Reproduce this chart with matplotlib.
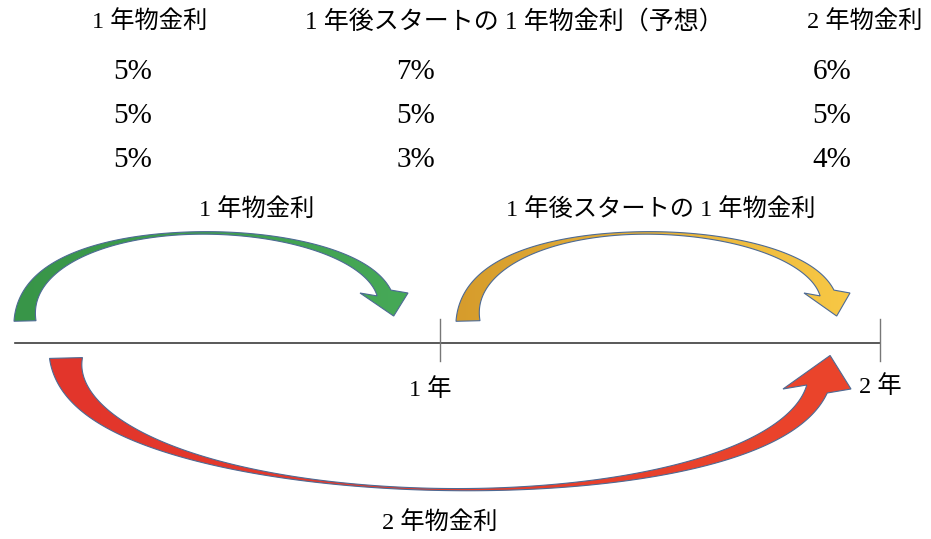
import numpy as np
import matplotlib.pyplot as plt
from matplotlib.patches import Polygon
from matplotlib.colors import LinearSegmentedColormap

plt.rcParams['font.family'] = ['Liberation Serif', 'Noto Sans CJK JP']

# table at the top
col_titles = ["1 年物金利", "1 年後スタートの 1 年物金利（予想）", "2 年物金利"]
rate_1y = [5, 5, 5]
rate_fwd = [7, 5, 3]
rate_2y = [6, 5, 4]

# time line
years = [1, 2]
year_labels = ["1 年", "2 年"]
arrow_labels = ["1 年物金利", "1 年後スタートの 1 年物金利", "2 年物金利"]


def bezier(p, t):
  p = np.asarray(p, float)
  t = t[:, None]
  pts = ((1 - t)**3 * p[0] + 3 * (1 - t)**2 * t * p[1]
         + 3 * (1 - t) * t**2 * p[2] + t**3 * p[3])
  der = (3 * (1 - t)**2 * (p[1] - p[0]) + 6 * (1 - t) * t * (p[2] - p[1])
         + 3 * t**2 * (p[3] - p[2]))
  return pts, der / np.linalg.norm(der, axis=1)[:, None]


def curved_arrow(ax, ctrl, w0, wmid, wend, half, head_len, c0, c1,
                 k0=1.2, k1=1.2):
  t = np.linspace(0, 1, 300)
  pts, tan = bezier(ctrl, t)
  nrm = np.column_stack([-tan[:, 1], tan[:, 0]])
  w = np.where(t < 0.5, wmid + (w0 - wmid) * np.clip(1 - 2 * t, 0, 1)**k0,
               wmid + (wend - wmid) * np.clip(2 * t - 1, 0, 1)**k1)
  left = pts + nrm * w[:, None] / 2
  right = pts - nrm * w[:, None] / 2
  end = pts[-1]
  s = np.sign(nrm[-1, 0])
  tip = end + tan[-1] * head_len
  poly = np.vstack([left, [end + [s * half, 0]], [tip],
                    [end - [s * half, 0]], right[::-1]])
  patch = Polygon(poly, closed=True, facecolor='none',
                  edgecolor='#4d6a94', lw=0.8, zorder=3, joinstyle='miter')
  ax.add_patch(patch)
  cmap = LinearSegmentedColormap.from_list('g', [c0, c1])
  x0, x1 = poly[:, 0].min(), poly[:, 0].max()
  y0, y1 = poly[:, 1].min(), poly[:, 1].max()
  grad = np.linspace(0, 1, 256)[None, :]
  im = ax.imshow(grad, cmap=cmap, extent=[x0, x1, y1, y0],
                 aspect='auto', zorder=2, interpolation='bilinear')
  im.set_clip_path(patch)


fig = plt.figure(figsize=(9.31, 5.39), dpi=100)
ax = fig.add_axes([0, 0, 1, 1])

# table
col_x = [150, 514, 865]
val_x = [133, 416, 832]
ax.text(col_x[0], 22, col_titles[0], fontsize=17.5, ha='center', va='center')
ax.text(col_x[1], 22, col_titles[1], fontsize=18, ha='center', va='center')
ax.text(col_x[2], 22, col_titles[2], fontsize=17.5, ha='center', va='center')
row_y = [72, 116, 160]
for i, y in enumerate(row_y):
  ax.text(val_x[0], y, f"{rate_1y[i]}%", fontsize=21, ha='center', va='center')
  ax.text(val_x[1], y, f"{rate_fwd[i]}%", fontsize=21, ha='center', va='center')
  ax.text(val_x[2], y, f"{rate_2y[i]}%", fontsize=21, ha='center', va='center')

# time line
x_year = 440
line_y = 343
ax.plot([15, 880], [line_y, line_y], color='#3c3c3c', lw=1.2, zorder=1)
for yr in years:
  ax.plot([yr * x_year, yr * x_year], [line_y - 24, line_y + 18],
          color='#777777', lw=1.0, zorder=1)
ax.text(430, 390, year_labels[0], fontsize=17.5, ha='center', va='center')
ax.text(880, 387, year_labels[1], fontsize=17.5, ha='center', va='center')

# arrows
green = [(25, 321), (22, 205), (350, 212), (384, 293)]
curved_arrow(ax, green, 22, 2.5, 15, 24, 25, '#389548', '#46a957', 1.9, 1.9)
shift = 443
yellow = [(x + shift, y) for x, y in green]
curved_arrow(ax, yellow, 24, 2.5, 15, 23, 25, '#d69c2c', '#f8c845', 1.9, 1.9)
red = [(66, 358), (70, 520), (760, 535), (817, 389)]
curved_arrow(ax, red, 33, 2, 22, 34, 36, '#e2352b', '#eb452b', 2.4, 1.8)

ax.text(257, 210, arrow_labels[0], fontsize=17.5, ha='center', va='center')
ax.text(661, 210, arrow_labels[1], fontsize=17.5, ha='center', va='center')
ax.text(440, 523, arrow_labels[2], fontsize=17.5, ha='center', va='center')

ax.set_xlim(0, 931)
ax.set_ylim(539, 0)
ax.axis('off')
fig.savefig('out.png', dpi=100)
